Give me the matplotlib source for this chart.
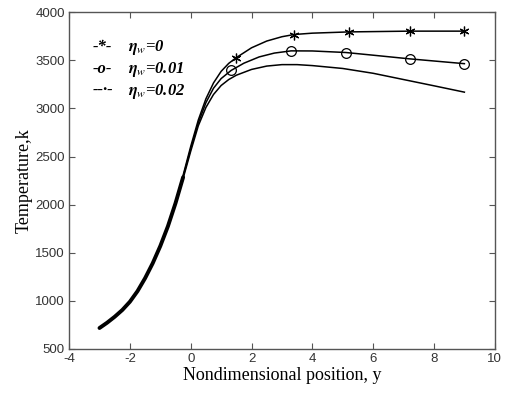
import matplotlib
matplotlib.use("Agg")
import matplotlib.pyplot as plt

plt.rcParams['mathtext.fontset'] = 'stix'
plt.rcParams['axes.unicode_minus'] = False

# Data
x_common = [-3.0, -2.75, -2.5, -2.25, -2.0, -1.75, -1.5, -1.25, -1.0, -0.75, -0.5, -0.25]
t_common = [718, 773, 835, 905, 991, 1101, 1236, 1391, 1570, 1775, 2015, 2285]

x_eta0 = [-0.75, -0.5, -0.25, 0.0, 0.25, 0.5, 0.75, 1.0, 1.25, 1.5, 2.0, 2.5, 3.0, 3.4, 4.0, 5.2, 7.2, 9.0]
t_eta0 = [1775, 2020, 2305, 2605, 2880, 3100, 3265, 3385, 3468, 3528, 3630, 3700, 3745, 3768, 3782, 3795, 3803, 3803]
x_eta0_mk = [1.5, 3.4, 5.2, 7.2, 9.0]
t_eta0_mk = [3528, 3768, 3795, 3803, 3803]

x_eta1 = [-0.75, -0.5, -0.25, 0.0, 0.25, 0.5, 0.75, 1.0, 1.33, 1.75, 2.25, 2.75, 3.3, 4.0, 5.1, 6.0, 7.2, 9.0]
t_eta1 = [1775, 2015, 2290, 2580, 2850, 3060, 3210, 3310, 3395, 3470, 3535, 3575, 3598, 3597, 3581, 3553, 3515, 3465]
x_eta1_mk = [1.33, 3.3, 5.1, 7.2, 9.0]
t_eta1_mk = [3395, 3598, 3581, 3515, 3465]

x_eta2 = [-0.75, -0.5, -0.25, 0.0, 0.25, 0.5, 0.75, 1.0, 1.25, 1.5, 2.0, 2.5, 3.0, 3.5, 4.0, 5.0, 6.0, 7.0, 8.0, 9.0]
t_eta2 = [1770, 2008, 2272, 2555, 2820, 3010, 3145, 3238, 3300, 3345, 3405, 3440, 3455, 3455, 3445, 3415, 3365, 3300, 3235, 3169]

legend_marks = ['-*-', '-o-', '--·-']
legend_labels = [r'$\boldsymbol{\eta}_{w}$=0', r'$\boldsymbol{\eta}_{w}$=0.01', r'$\boldsymbol{\eta}_{w}$=0.02']

xticks = [-4, -2, 0, 2, 4, 6, 8, 10]
yticks = [500, 1000, 1500, 2000, 2500, 3000, 3500, 4000]

fig = plt.figure(figsize=(5.08, 3.93), dpi=100)
ax = fig.add_axes([0.136, 0.112, 0.838, 0.857])

lw = 1.1
ax.plot(x_common, t_common, color='black', lw=2.8, solid_joinstyle='round', solid_capstyle='round')
ax.plot(x_eta0, t_eta0, color='black', lw=lw)
ax.plot(x_eta1, t_eta1, color='black', lw=lw)
ax.plot(x_eta2, t_eta2, color='black', lw=lw)
ax.plot(x_eta0_mk, t_eta0_mk, linestyle='none', marker=(6, 2, 0), ms=7, mec='black', mew=0.9)
ax.plot(x_eta1_mk, t_eta1_mk, linestyle='none', marker='o', ms=7, mfc='none', mec='black', mew=0.9)

ax.set_xlim(-4, 10)
ax.set_ylim(500, 4000)
ax.set_xticks(xticks)
ax.set_yticks(yticks)
ax.tick_params(direction='in', length=4, top=True, right=True, labelsize=9.5,
               labelcolor='#333333', color='#555555', pad=3)
for s in ax.spines.values():
    s.set_color('#555555')
    s.set_linewidth(1.0)

for lab in ax.get_xticklabels() + ax.get_yticklabels():
    lab.set_family('Liberation Sans')

ax.set_xlabel('Nondimensional position, y', family='Liberation Serif', fontsize=13, labelpad=1)
ax.set_ylabel('Temperature,k', family='Liberation Serif', fontsize=13, labelpad=2)

ys = [3636, 3408, 3180]
for m, l, yv in zip(legend_marks, legend_labels, ys):
    ax.text(-3.22, yv, m, family='Liberation Serif', fontsize=12, fontweight='bold',
            fontstyle='italic', va='center', ha='left')
    ax.text(-2.06, yv, l, family='Liberation Serif', fontsize=12, fontweight='bold',
            fontstyle='italic', va='center', ha='left')

fig.savefig('out.png', dpi=100)
